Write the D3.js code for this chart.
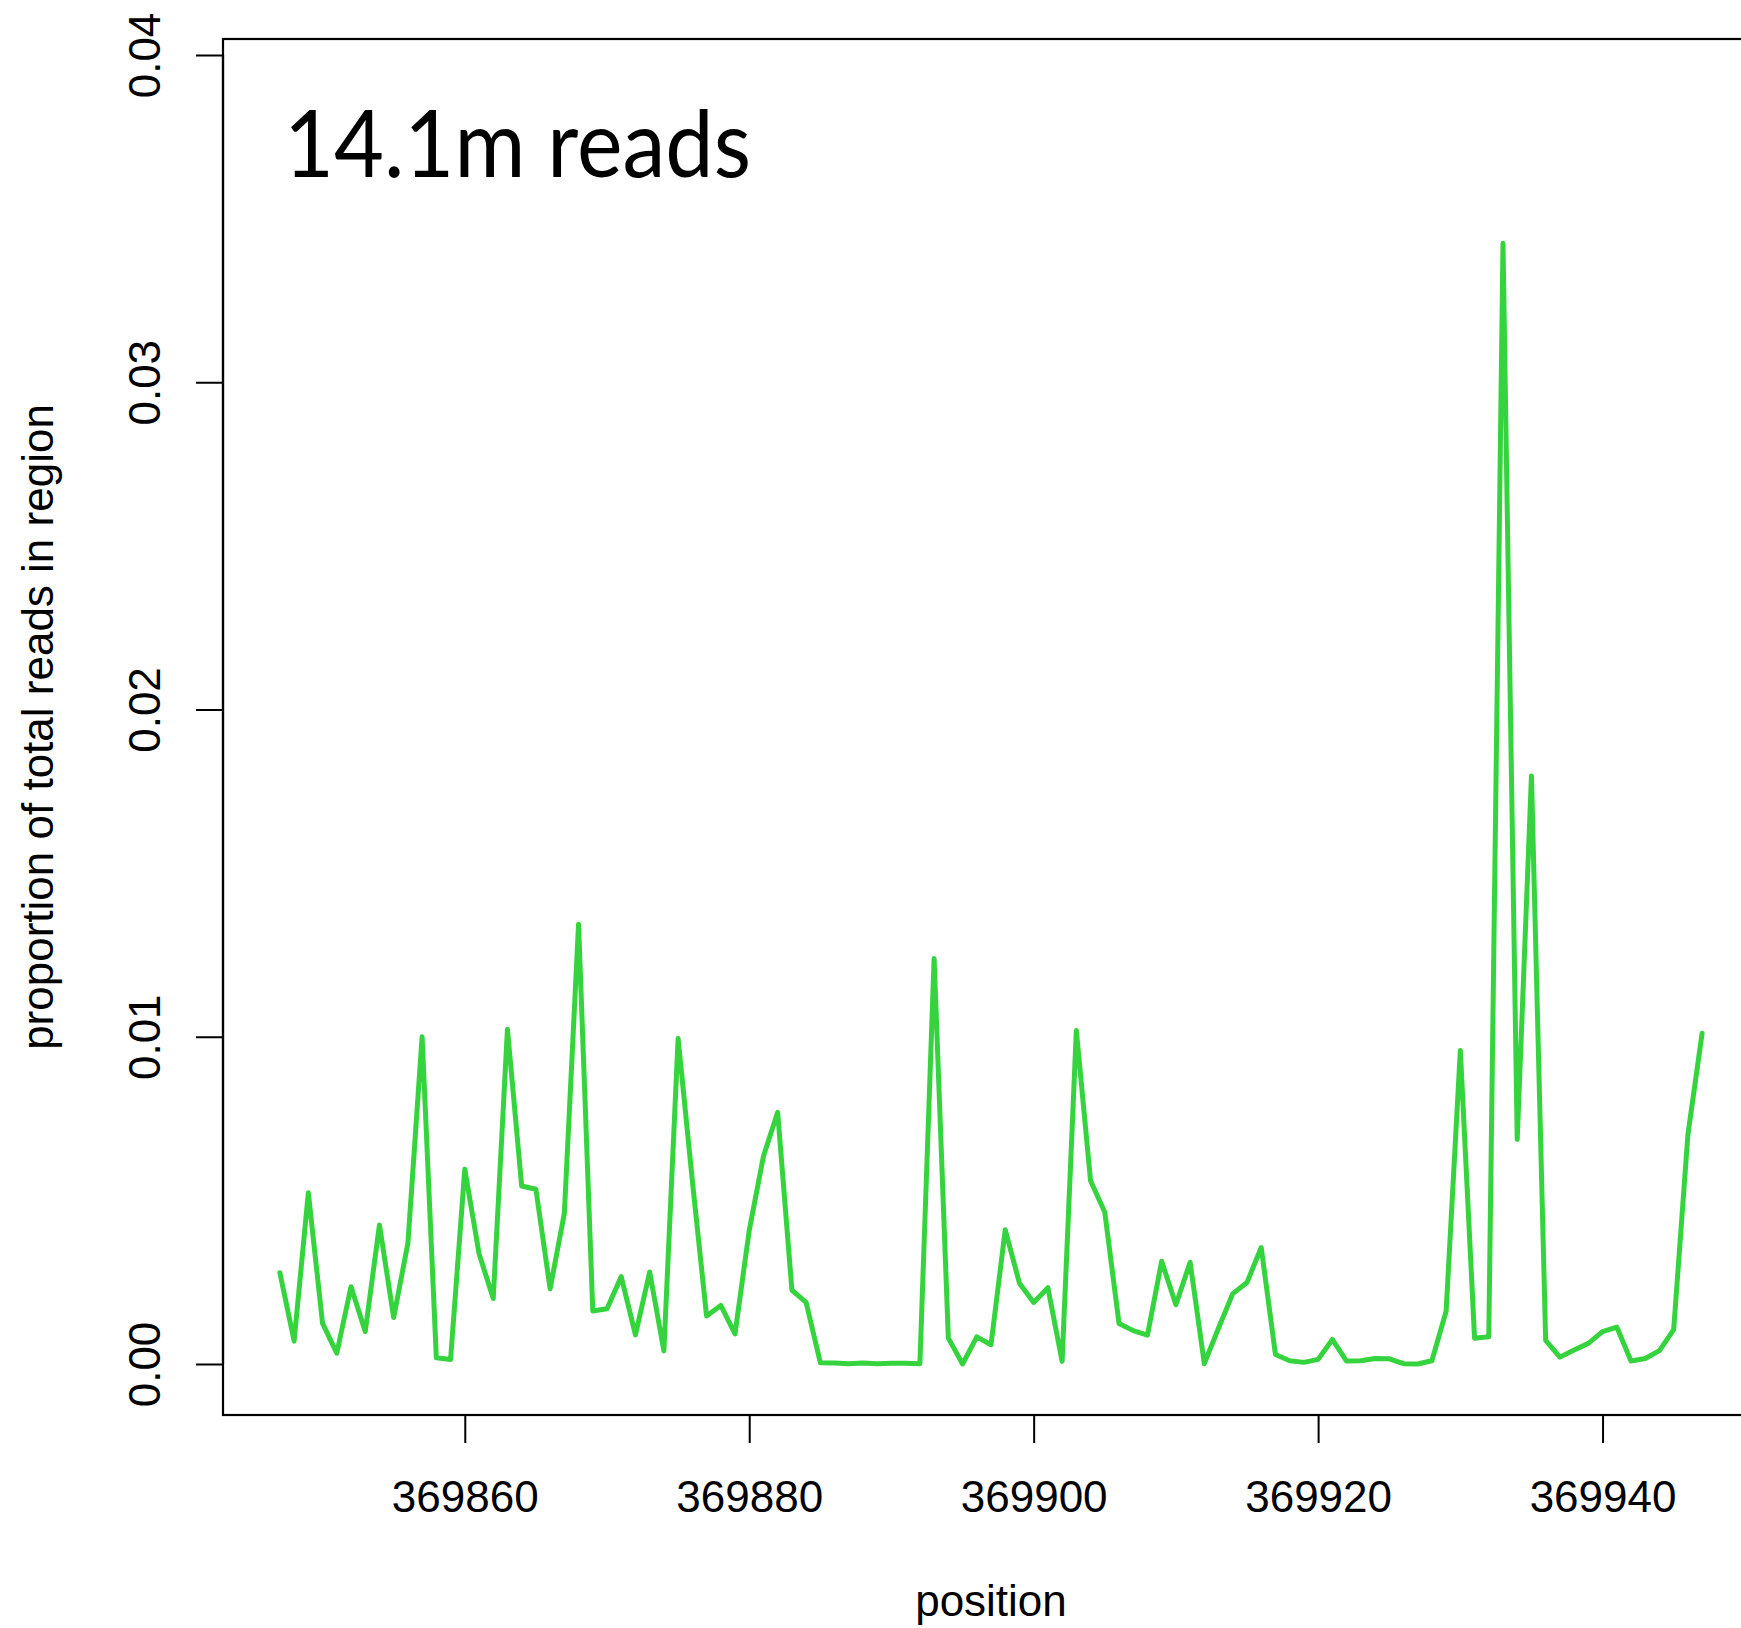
<!DOCTYPE html>
<html lang="en">
<head>
  <meta charset="UTF-8" />
  <title>14.1m reads</title>
  <script src="https://d3js.org/d3.v7.min.js"></script>
  <style>
    html, body {
      margin: 0;
      padding: 0;
      background: #fff;
    }
    svg {
      display: block;
      font-family: "Liberation Sans", Arial, sans-serif;
    }
  </style>
</head>
<body>
<svg width="1741" height="1628"></svg>
<script>
  // genomic positions (one per read position)
  const positions = [
    369847, 369848, 369849, 369850, 369851, 369852, 369853, 369854, 369855, 369856,
    369857, 369858, 369859, 369860, 369861, 369862, 369863, 369864, 369865, 369866,
    369867, 369868, 369869, 369870, 369871, 369872, 369873, 369874, 369875, 369876,
    369877, 369878, 369879, 369880, 369881, 369882, 369883, 369884, 369885, 369886,
    369887, 369888, 369889, 369890, 369891, 369892, 369893, 369894, 369895, 369896,
    369897, 369898, 369899, 369900, 369901, 369902, 369903, 369904, 369905, 369906,
    369907, 369908, 369909, 369910, 369911, 369912, 369913, 369914, 369915, 369916,
    369917, 369918, 369919, 369920, 369921, 369922, 369923, 369924, 369925, 369926,
    369927, 369928, 369929, 369930, 369931, 369932, 369933, 369934, 369935, 369936,
    369937, 369938, 369939, 369940, 369941, 369942, 369943, 369944, 369945, 369946,
    369947
  ];

  // proportion of total reads in region
  const proportions = [
    0.00279, 0.00070, 0.00523, 0.00124, 0.00033, 0.00236, 0.00099, 0.00425, 0.00142, 0.00369,
    0.01000, 0.00019, 0.00014, 0.00595, 0.00338, 0.00200, 0.01023, 0.00544, 0.00534, 0.00230,
    0.00460, 0.01344, 0.00162, 0.00169, 0.00267, 0.00089, 0.00281, 0.00040, 0.00995, 0.00560,
    0.00147, 0.00179, 0.00092, 0.00408, 0.00635, 0.00769, 0.00226, 0.00188, 0.00004, 0.00003,
    0.00001, 0.00003, 0.00001, 0.00002, 0.00002, 0.00001, 0.01239, 0.00079, 0.00000, 0.00083,
    0.00059, 0.00410, 0.00247, 0.00188, 0.00233, 0.00008, 0.01019, 0.00560, 0.00464, 0.00124,
    0.00102, 0.00088, 0.00314, 0.00181, 0.00311, 0.00001, 0.00110, 0.00215, 0.00249, 0.00356,
    0.00029, 0.00010, 0.00005, 0.00014, 0.00075, 0.00009, 0.00010, 0.00017, 0.00016, 0.00001,
    0.00000, 0.00010, 0.00161, 0.00958, 0.00079, 0.00083, 0.03425, 0.00686, 0.01797, 0.00072,
    0.00021, 0.00043, 0.00063, 0.00099, 0.00113, 0.00009, 0.00017, 0.00041, 0.00105, 0.00700,
    0.01011
  ];

  const xTicks = [369860, 369880, 369900, 369920, 369940];
  const yTicks = [0.00, 0.01, 0.02, 0.03, 0.04];
  const title = "14.1m reads";

  const svg = d3.select("svg");

  // plot box (right edge runs off the picture)
  const box = { left: 223, top: 39, right: 1759, bottom: 1415 };

  const x = d3.scaleLinear().domain([369843, 369951]).range([box.left, box.right]);
  const y = d3.scaleLinear().domain([0, 0.04]).range([1364, 55]);

  const data = positions.map((p, i) => ({ pos: p, val: proportions[i] }));

  // data line
  const line = d3.line().x(d => x(d.pos)).y(d => y(d.val));
  svg.append("path")
    .datum(data)
    .attr("d", line)
    .attr("fill", "none")
    .attr("stroke", "#35d43e")
    .attr("stroke-width", 5)
    .attr("stroke-linejoin", "round")
    .attr("stroke-linecap", "round");

  // box
  svg.append("rect")
    .attr("x", box.left).attr("y", box.top)
    .attr("width", box.right - box.left).attr("height", box.bottom - box.top)
    .attr("fill", "none").attr("stroke", "#000").attr("stroke-width", 2.2);

  // x axis
  const xAxis = svg.append("g")
    .attr("transform", `translate(0,${box.bottom})`)
    .call(d3.axisBottom(x).tickValues(xTicks).tickFormat(d3.format("d")).tickSize(28).tickPadding(40));
  xAxis.select(".domain").attr("stroke-width", 2.2)
    .attr("d", `M${x(xTicks[0])},0H${x(xTicks[xTicks.length - 1])}`);
  xAxis.selectAll(".tick line").attr("stroke-width", 2);
  xAxis.selectAll(".tick text")
    .attr("font-size", 44).attr("font-family", "Liberation Sans, Arial, sans-serif")
    .attr("fill", "#000").attr("dy", null).attr("y", 97);

  // y axis
  const yAxis = svg.append("g")
    .attr("transform", `translate(${box.left},0)`)
    .call(d3.axisLeft(y).tickValues(yTicks).tickFormat(d3.format(".2f")).tickSize(27));
  yAxis.select(".domain").attr("stroke-width", 2.2)
    .attr("d", `M0,${y(yTicks[0])}V${y(yTicks[yTicks.length - 1])}`);
  yAxis.selectAll(".tick line").attr("stroke-width", 2);
  yAxis.selectAll(".tick text")
    .attr("font-size", 44).attr("font-family", "Liberation Sans, Arial, sans-serif")
    .attr("fill", "#000")
    .attr("x", null).attr("dy", null)
    .attr("text-anchor", "middle")
    .attr("transform", "translate(-63,0) rotate(-90)");

  // axis titles
  svg.append("text")
    .attr("x", (box.left + box.right) / 2).attr("y", 1616)
    .attr("text-anchor", "middle").attr("font-size", 44)
    .text("position");

  svg.append("text")
    .attr("transform", `translate(53,${(box.top + box.bottom) / 2}) rotate(-90)`)
    .attr("text-anchor", "middle").attr("font-size", 44)
    .text("proportion of total reads in region");

  // big in-plot title
  svg.append("text")
    .attr("x", 284).attr("y", 177)
    .attr("font-family", "Lato, 'Open Sans', sans-serif")
    .attr("font-size", 94)
    .attr("textLength", 467)
    .attr("lengthAdjust", "spacingAndGlyphs")
    .text(title);
</script>
</body>
</html>
